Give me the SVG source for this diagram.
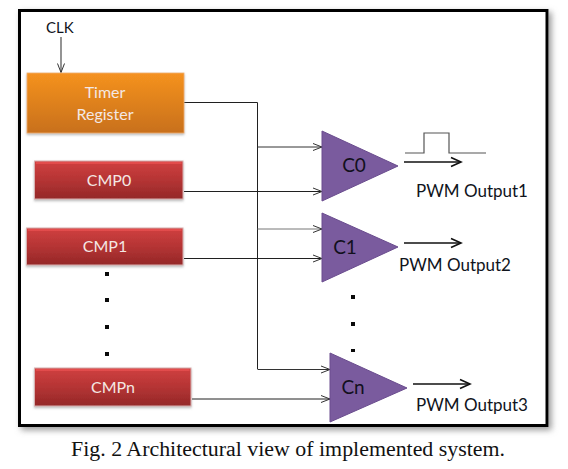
<svg xmlns="http://www.w3.org/2000/svg" width="568" height="469" viewBox="0 0 568 469">
<style>
.lbl{font-family:"Lato","Open Sans","Liberation Sans",sans-serif;font-size:17px;fill:#10141c}
.box{font-family:"Lato","Open Sans","Liberation Sans",sans-serif;font-size:16px;fill:#f4e8e4;text-anchor:middle}
.cmp{font-family:"Lato","Open Sans","Liberation Sans",sans-serif;font-size:19px;fill:#12101c;text-anchor:middle}
.red{fill:url(#redg);stroke:#d8b0b0;stroke-width:1;filter:url(#sh)}
.bev{fill:none;stroke:#e85050;stroke-width:1.500}
.tri{fill:#7a5b9e;stroke:#6a4c8e;stroke-width:1}
.w{fill:none;stroke:#202020;stroke-width:1}
.w2{fill:none;stroke:#111;stroke-width:1.6}
.dot{fill:#0a0a0a}
</style>
<defs>
<linearGradient id="redg" x1="0" y1="0" x2="0" y2="1"><stop offset="0" stop-color="#d04040"/><stop offset="0.5" stop-color="#b53434"/><stop offset="1" stop-color="#942828"/></linearGradient>
<linearGradient id="orag" x1="0" y1="0" x2="0" y2="1"><stop offset="0" stop-color="#f59220"/><stop offset="1" stop-color="#c8701a"/></linearGradient>
<filter id="sh" x="-5%" y="-10%" width="110%" height="125%"><feDropShadow dx="0" dy="1.5" stdDeviation="1" flood-color="#888" flood-opacity="0.6"/></filter>
<filter id="fr" x="-5%" y="-5%" width="110%" height="110%"><feDropShadow dx="3" dy="3" stdDeviation="3" flood-color="#777" flood-opacity="0.75"/></filter>
<marker id="open" markerWidth="11" markerHeight="10" refX="10" refY="5" orient="auto" markerUnits="userSpaceOnUse"><path d="M1 1.5L10 5L1 8.500" fill="none" stroke="#333" stroke-width="1"/></marker>
<marker id="open2" markerWidth="13" markerHeight="12" refX="11" refY="6" orient="auto" markerUnits="userSpaceOnUse"><path d="M1 1.500L11 6L1 10.500" fill="none" stroke="#111" stroke-width="1.6"/></marker>
</defs>
<rect width="568" height="469" fill="#fff"/>
<g id="frame"><rect x="19.500" y="10.500" width="527.500" height="415" fill="#fff" stroke="#000" stroke-width="3" filter="url(#fr)"/></g>
<g id="connectors">
<path class="w" style="stroke:#666;stroke-width:1.4" d="M61 37V72.500" marker-end="url(#open)"/>
<path class="w" d="M184 102.500H257.500V369"/>
<path class="w" style="stroke:#333" d="M257.500 147H322" marker-end="url(#open)"/>
<path class="w" d="M184 191.500H322" marker-end="url(#open)"/>
<path class="w" style="stroke:#777" d="M257.500 229H322" marker-end="url(#open)"/>
<path class="w" d="M184 258.500H322" marker-end="url(#open)"/>
<path class="w" style="stroke:#333" d="M257.500 369.500H330" marker-end="url(#open)"/>
<path class="w" d="M192 399H330" marker-end="url(#open)"/>
<path class="w2" d="M404 162H461" marker-end="url(#open2)"/>
<path class="w2" d="M404 243H461" marker-end="url(#open2)"/>
<path class="w2" d="M413 384H470" marker-end="url(#open2)"/>
<path d="M405 153H424V133H449V153H486" fill="none" stroke="#555" stroke-width="1.2"/>
</g>
<g id="clk"><text class="lbl" x="46" y="33" style="font-size:15px">CLK</text></g>
<g id="timer"><rect x="27" y="73" width="157" height="60" fill="url(#orag)" stroke="#f0b070" stroke-width="0.8" filter="url(#sh)"/>
<text class="box" x="105" y="98">Timer</text><text class="box" x="105" y="120">Register</text></g>
<g id="cmp0"><rect class="red" x="34.500" y="161" width="148.500" height="38"/><path class="bev" d="M36 163H181.500"/><text class="box" x="109" y="186">CMP0</text></g>
<g id="cmp1"><rect class="red" x="26.500" y="228" width="156.500" height="37"/><path class="bev" d="M28 230H181.500"/><text class="box" x="105" y="252">CMP1</text></g>
<g id="cmpn"><rect class="red" x="34.500" y="368" width="156.500" height="38"/><path class="bev" d="M36 370H189.500"/><text class="box" x="113" y="393">CMPn</text></g>
<g id="dots-left" class="dot"><rect x="105" y="272" width="4" height="4"/><rect x="105" y="298" width="4" height="4"/><rect x="105" y="325" width="4" height="4"/><rect x="105" y="352" width="4" height="4"/></g>
<g id="c0"><polygon class="tri" points="322,131 398,166 322,201"/><text class="cmp" x="354" y="172">C0</text></g>
<g id="c1"><polygon class="tri" points="322,213 398,247 322,282"/><text class="cmp" x="345" y="254">C1</text></g>
<g id="cn"><polygon class="tri" points="330,353 407,388 330,422"/><text class="cmp" x="353" y="394">Cn</text></g>
<g id="dots-right" class="dot"><rect x="351" y="295" width="4" height="4"/><rect x="351" y="322" width="4" height="4"/><rect x="351" y="349" width="4" height="3"/></g>
<g id="out1"><text class="lbl" x="416" y="197">PWM Output1</text></g>
<g id="out2"><text class="lbl" x="399" y="271">PWM Output2</text></g>
<g id="out3"><text class="lbl" x="416" y="411">PWM Output3</text></g>
<text id="caption" x="71" y="456" font-family="'Liberation Serif',serif" font-size="21.900px" fill="#111">Fig. 2 Architectural view of implemented system.</text>
</svg>
